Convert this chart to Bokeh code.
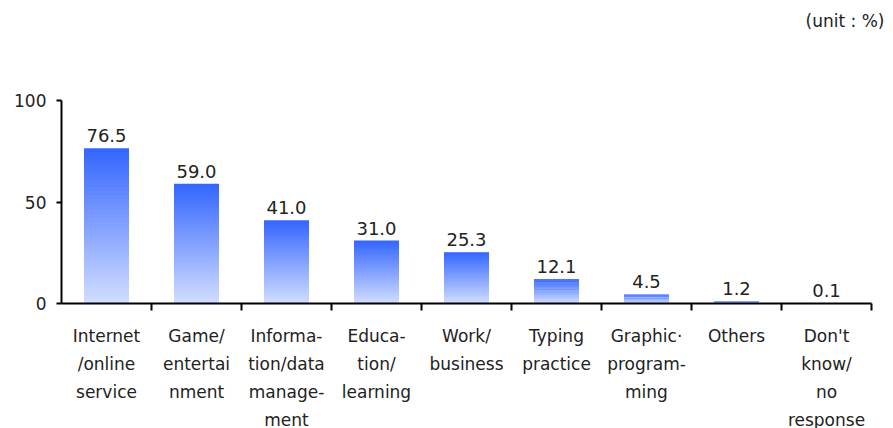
from bokeh.plotting import figure
from bokeh.models import FixedTicker, ColumnDataSource, Label, Range1d
from bokeh.core.properties import value
from bokeh.embed import file_html
from bokeh.resources import INLINE

categories = ["Internet\n/online\nservice", "Game/\nentertai\nnment", "Informa-\ntion/data\nmanage-\nment",
              "Educa-\ntion/\nlearning", "Work/\nbusiness", "Typing\npractice", "Graphic\u00b7\nprogram-\nming",
              "Others", "Don't\nknow/\nno\nresponse"]
values = [76.5, 59.0, 41.0, 31.0, 25.3, 12.1, 4.5, 1.2, 0.1]
value_labels = ["76.5", "59.0", "41.0", "31.0", "25.3", "12.1", "4.5", "1.2", "0.1"]
y_ticks = [0, 50, 100]

FONT = "DejaVu Sans"
top_rgb = (0x33, 0x66, 0xFF)
bot_rgb = (0xD2, 0xDD, 0xFF)
N = 40

ncat = len(categories)
px_per_cat = 90.0
frame_w = 824
frame_h = 295
px_per_unit = 203 / 100.0
x_end = frame_w / px_per_cat
y_end = frame_h / px_per_unit

p = figure(frame_width=frame_w, frame_height=frame_h, output_backend="svg", toolbar_location=None,
           x_range=Range1d(0, x_end), y_range=Range1d(0, y_end),
           min_border_left=61, min_border_right=0, min_border_top=8, min_border_bottom=0)
p.outline_line_color = None
p.xgrid.visible = False
p.ygrid.visible = False

# gradient bars: stack overlapping slices from 0 to each value
l, r, b, t, c = [], [], [], [], []
for i, v in enumerate(values):
    for k in range(N):
        f = (k + 0.5) / N
        rgb = tuple(int(round(bot_rgb[j] + (top_rgb[j] - bot_rgb[j]) * f)) for j in range(3))
        l.append(i + 0.25); r.append(i + 0.75)
        b.append(v * k / N); t.append(v * min(k + 1.6, N) / N)
        c.append("#%02x%02x%02x" % rgb)
p.quad(left=l, right=r, bottom=b, top=t, fill_color=c, line_color=None)

src = ColumnDataSource(dict(x=[i + 0.5 for i in range(len(values))], y=values, txt=value_labels))
p.text(x="x", y="y", text="txt", source=src, text_align="center", text_baseline="bottom",
       y_offset=-6, text_font=value(FONT), text_font_size="18px", text_color="#222222")

xa = p.xaxis[0]
xa.bounds = (0, ncat)
xa.ticker = FixedTicker(ticks=[i + 0.5 for i in range(ncat)],
                        minor_ticks=list(range(1, ncat + 1)))
xa.major_label_overrides = {i + 0.5: cat for i, cat in enumerate(categories)}
xa.major_tick_out = 0
xa.major_tick_in = 0
xa.minor_tick_out = 7
xa.minor_tick_in = 0
xa.minor_tick_line_color = "black"
xa.minor_tick_line_width = 2
xa.axis_line_width = 2
xa.axis_line_color = "black"
xa.major_label_standoff = 15
xa.major_label_text_font = FONT
xa.major_label_text_font_size = "17px"
xa.major_label_text_color = "#222222"
xa.major_label_text_line_height = 1.4

ya = p.yaxis[0]
ya.bounds = (0, 100)
ya.ticker = FixedTicker(ticks=y_ticks, minor_ticks=[])
ya.major_tick_out = 5
ya.major_tick_in = 0
ya.major_tick_line_width = 2
ya.axis_line_width = 2
ya.axis_line_color = "black"
ya.major_label_standoff = 10
ya.major_label_text_font = FONT
ya.major_label_text_font_size = "17px"
ya.major_label_text_color = "#222222"

# unit note in the top-right corner (inside the extended frame)
p.add_layout(Label(x=x_end, y=y_end, x_offset=-1, y_offset=-12, text="(unit : %)",
                   text_align="right", text_baseline="middle", text_font=FONT,
                   text_font_size="17px", text_color="#222222"))

open("out.html", "w").write(file_html(p, INLINE))
